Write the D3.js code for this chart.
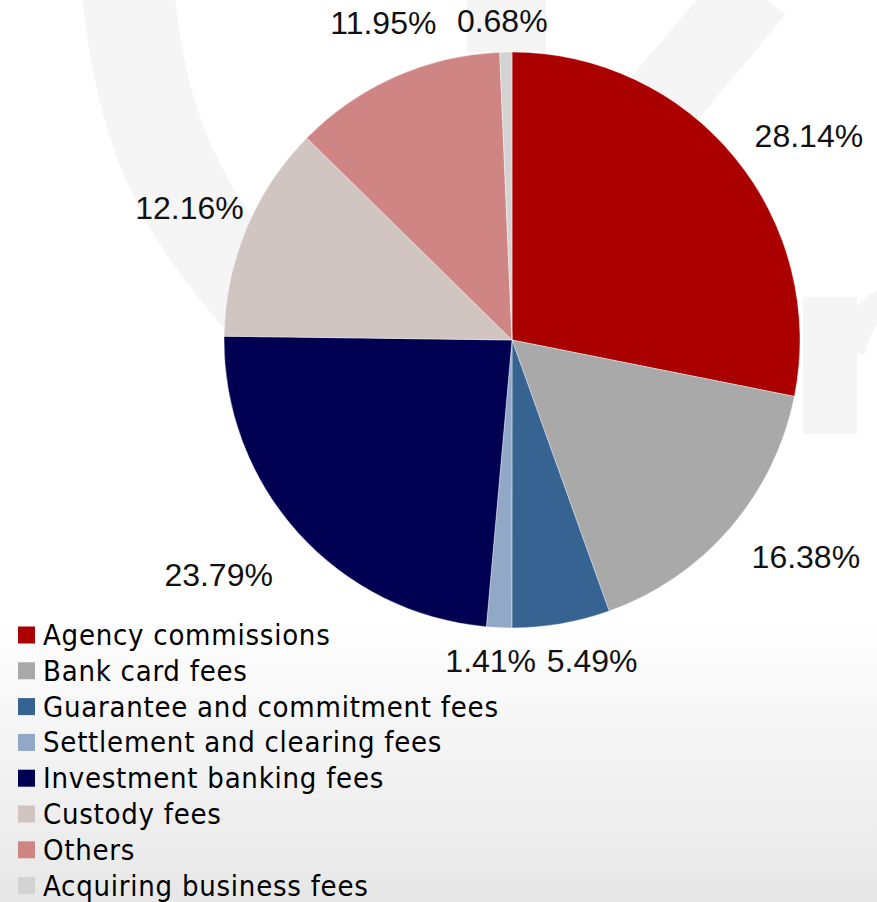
<!DOCTYPE html>
<html>
<head>
<meta charset="utf-8">
<script src="https://cdn.jsdelivr.net/npm/d3@7"></script>
<style>
  html, body { margin: 0; padding: 0; background: #ffffff; }
  svg { display: block; }
</style>
</head>
<body>
<svg id="chart" width="877" height="902"></svg>
<script>
// Fee and commission income breakdown, share of total (%)
const categories = [
  "Agency commissions",
  "Bank card fees",
  "Guarantee and commitment fees",
  "Settlement and clearing fees",
  "Investment banking fees",
  "Custody fees",
  "Others",
  "Acquiring business fees"
];
const shares = [28.14, 16.38, 5.49, 1.41, 23.79, 12.16, 11.95, 0.68];
const sliceColors = ["#aa0000", "#a9a9a9", "#366391", "#91a9c6", "#000052", "#d0c5c0", "#d08585", "#d3d3d3"];
// Small hand adjustments for the outside value labels (px)
const labelNudge = [[9, 6], [12, 0], [18, -7], [-5, -11], [-17, 12], [21, -5], [22, -14], [-2, 12]];

const W = 877, H = 902;
const cx = 512, cy = 340, radius = 288;

const svg = d3.select("#chart");
const defs = svg.append("defs");

// page background: white fading to light grey toward the bottom
const grad = defs.append("linearGradient")
  .attr("id", "bg").attr("x1", 0).attr("y1", 0).attr("x2", 0).attr("y2", 1);
grad.append("stop").attr("offset", "0").attr("stop-color", "#ffffff");
grad.append("stop").attr("offset", "0.68").attr("stop-color", "#ffffff");
grad.append("stop").attr("offset", "1").attr("stop-color", "#e7e7e7");
svg.append("rect").attr("width", W).attr("height", H).attr("fill", "url(#bg)");

// faint logo watermark behind the chart
const wmColor = "#f5f5f5";
const wm = svg.append("g").attr("fill", "none").attr("stroke", wmColor).attr("stroke-linecap", "butt");
wm.append("path")
  .attr("d", "M128,-10 C140,120 175,210 270,310")
  .attr("stroke-width", 92);
wm.append("path")
  .attr("d", "M755,-10 C715,40 670,90 630,140")
  .attr("stroke-width", 78);
svg.append("rect").attr("x", 467).attr("y", 0).attr("width", 79).attr("height", 52).attr("fill", wmColor);
svg.append("rect").attr("x", 803).attr("y", 297).attr("width", 54).attr("height", 137).attr("fill", wmColor);
wm.append("path")
  .attr("d", "M852,352 C860,318 872,304 890,300")
  .attr("stroke-width", 26);

// pie
const pie = d3.pie().sort(null).value(d => d).startAngle(0).endAngle(2 * Math.PI);
const arcs = pie(shares);
const arc = d3.arc().innerRadius(0).outerRadius(radius);

const g = svg.append("g").attr("transform", `translate(${cx},${cy})`);
g.selectAll("path.slice")
  .data(arcs)
  .join("path")
  .attr("class", "slice")
  .attr("d", arc)
  .attr("fill", (d, i) => sliceColors[i])
  .attr("stroke", "#ffffff")
  .attr("stroke-width", 0.4);

// value labels outside each slice
const fmt = v => v.toFixed(2) + "%";
const labelFont = 32;
const labels = g.selectAll("text.val")
  .data(arcs)
  .join("text")
  .attr("class", "val")
  .attr("font-family", "'Liberation Sans', Arial, sans-serif")
  .attr("font-size", labelFont)
  .attr("fill", "#111111")
  .attr("text-anchor", "middle")
  .text(d => fmt(d.data));

labels.each(function (d, i) {
  const w = this.getComputedTextLength();
  const th = (d.startAngle + d.endAngle) / 2;
  const s = Math.sin(th), c = -Math.cos(th);
  const rr = radius + 30;
  const x = rr * s + s * w / 2 + labelNudge[i][0];
  const y = rr * c + c * 14 + labelNudge[i][1];
  d3.select(this).attr("x", x).attr("y", y + 0.36 * labelFont);
});

// legend
const legend = svg.append("g").attr("transform", "translate(18,635)");
const step = 35.8;
const rows = legend.selectAll("g.row")
  .data(categories)
  .join("g")
  .attr("class", "row")
  .attr("transform", (d, i) => `translate(0,${i * step})`);
rows.append("rect")
  .attr("x", 0).attr("y", -8.5)
  .attr("width", 17).attr("height", 17)
  .attr("fill", (d, i) => sliceColors[i]);
rows.append("text")
  .attr("x", 25).attr("y", 10)
  .attr("font-family", "'DejaVu Sans Condensed', 'DejaVu Sans', sans-serif")
  .attr("font-size", 29)
  .attr("letter-spacing", 0.75)
  .attr("fill", "#000000")
  .text(d => d);
</script>
</body>
</html>
